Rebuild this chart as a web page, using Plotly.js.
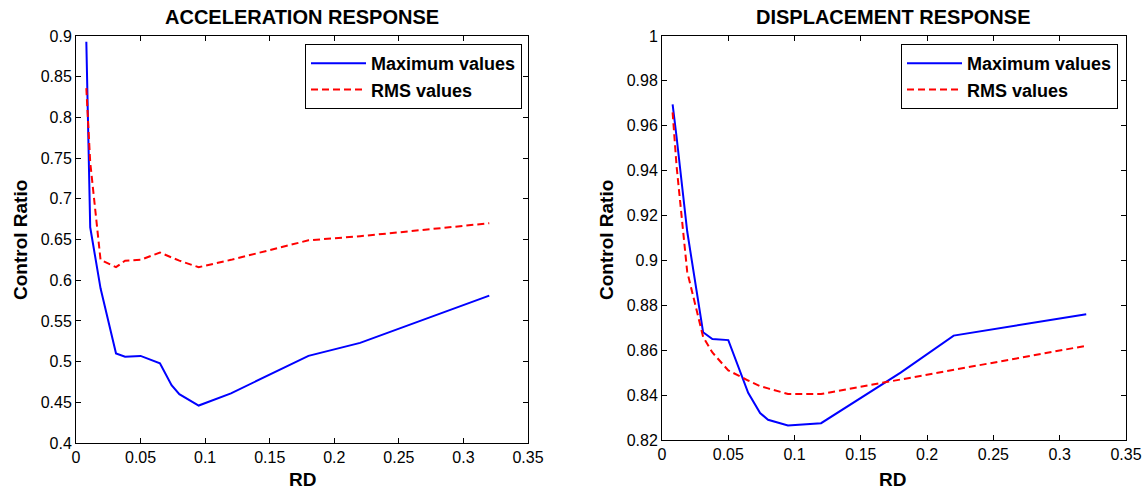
<!DOCTYPE html>
<html>
<head>
<meta charset="utf-8">
<script src="https://cdn.plot.ly/plotly-3.0.1.min.js"></script>
<style>
html,body{margin:0;padding:0;background:#fff;}
#chart{width:1146px;height:493px;}
</style>
</head>
<body>
<div id="chart"></div>
<script>
// RD values (shared x for both panels)
const rd = [0.008, 0.011, 0.019, 0.031, 0.038, 0.050, 0.065, 0.074, 0.080, 0.095, 0.120, 0.180, 0.220, 0.320];

// Acceleration response
const accMax = [0.893, 0.665, 0.590, 0.510, 0.506, 0.507, 0.498, 0.471, 0.460, 0.446, 0.461, 0.507, 0.523, 0.581];
const accRms = [0.836, 0.745, 0.625, 0.616, 0.624, 0.625, 0.634, 0.628, 0.624, 0.616, 0.625, 0.649, 0.654, 0.670];

// Displacement response
const dispMax = [0.9695, 0.955, 0.913, 0.868, 0.865, 0.8645, 0.841, 0.832, 0.829, 0.8265, 0.8275, 0.850, 0.8665, 0.876];
const dispRms = [0.966, 0.942, 0.895, 0.866, 0.859, 0.851, 0.8465, 0.844, 0.843, 0.8405, 0.8405, 0.847, 0.8515, 0.862];

const seriesNames = ["Maximum values", "RMS values"];
const panelTitles = ["ACCELERATION RESPONSE", "DISPLACEMENT RESPONSE"];
const xTitle = "RD";
const yTitle = "Control Ratio";

const W = 1146, H = 493;
const FONT = "Liberation Sans, Arial, sans-serif";

const blueLine = {color: "#0000FF", width: 2};
const redLine = {color: "#FF0000", width: 2, dash: "7px,4px"};

const traces = [
  {x: rd, y: accMax, type: "scatter", mode: "lines", name: seriesNames[0], line: blueLine, xaxis: "x", yaxis: "y", legend: "legend"},
  {x: rd, y: accRms, type: "scatter", mode: "lines", name: seriesNames[1], line: redLine, xaxis: "x", yaxis: "y", legend: "legend"},
  {x: rd, y: dispMax, type: "scatter", mode: "lines", name: seriesNames[0], line: blueLine, xaxis: "x2", yaxis: "y2", legend: "legend2"},
  {x: rd, y: dispRms, type: "scatter", mode: "lines", name: seriesNames[1], line: redLine, xaxis: "x2", yaxis: "y2", legend: "legend2"}
];

function axisBase(){
  return {
    showline: true, linecolor: "#000", linewidth: 1, mirror: "allticks",
    ticks: "inside", ticklen: 5, tickwidth: 1, tickcolor: "#000",
    showgrid: false, zeroline: false,
    tickfont: {family: FONT, size: 16, color: "#000"}
  };
}

const px = v => v / W;
const py = v => 1 - v / H;

function legendAt(right){
  return {
    x: px(right), y: py(44), xanchor: "right", yanchor: "top",
    bgcolor: "#fff", bordercolor: "#000", borderwidth: 1,
    itemwidth: 55,
    font: {family: FONT, size: 18, color: "#000", weight: "bold"},
    tracegroupgap: 0
  };
}

const layout = {
  width: W, height: H,
  margin: {l: 0, r: 0, t: 0, b: 0},
  paper_bgcolor: "#fff", plot_bgcolor: "#fff",
  font: {family: FONT, color: "#000"},
  showlegend: true,
  xaxis: Object.assign(axisBase(), {domain: [px(76), px(528)], range: [0, 0.35], dtick: 0.05, tick0: 0, anchor: "y"}),
  yaxis: Object.assign(axisBase(), {domain: [py(443), py(36)], range: [0.4, 0.9], dtick: 0.05, tick0: 0.4, anchor: "x"}),
  xaxis2: Object.assign(axisBase(), {domain: [px(662), px(1126)], range: [0, 0.35], dtick: 0.05, tick0: 0, anchor: "y2"}),
  yaxis2: Object.assign(axisBase(), {domain: [py(440), py(36)], range: [0.82, 1.0], dtick: 0.02, tick0: 0.82, anchor: "x2"}),
  legend: legendAt(522),
  legend2: legendAt(1118),
  annotations: [
    {text: "<b>" + panelTitles[0] + "</b>", xref: "paper", yref: "paper", x: px(302), y: py(17), xanchor: "center", yanchor: "middle", showarrow: false, font: {family: FONT, size: 20, color: "#000"}},
    {text: "<b>" + panelTitles[1] + "</b>", xref: "paper", yref: "paper", x: px(893), y: py(17), xanchor: "center", yanchor: "middle", showarrow: false, font: {family: FONT, size: 20, color: "#000"}},
    {text: "<b>" + xTitle + "</b>", xref: "paper", yref: "paper", x: px(302), y: py(479), xanchor: "center", yanchor: "middle", showarrow: false, font: {family: FONT, size: 19, color: "#000"}},
    {text: "<b>" + xTitle + "</b>", xref: "paper", yref: "paper", x: px(892), y: py(479), xanchor: "center", yanchor: "middle", showarrow: false, font: {family: FONT, size: 19, color: "#000"}},
    {text: "<b>" + yTitle + "</b>", xref: "paper", yref: "paper", x: px(20), y: py(240), xanchor: "center", yanchor: "middle", textangle: -90, showarrow: false, font: {family: FONT, size: 19, color: "#000"}},
    {text: "<b>" + yTitle + "</b>", xref: "paper", yref: "paper", x: px(606), y: py(240), xanchor: "center", yanchor: "middle", textangle: -90, showarrow: false, font: {family: FONT, size: 19, color: "#000"}}
  ]
};

Plotly.newPlot("chart", traces, layout, {displayModeBar: false, staticPlot: true});
</script>
</body>
</html>
